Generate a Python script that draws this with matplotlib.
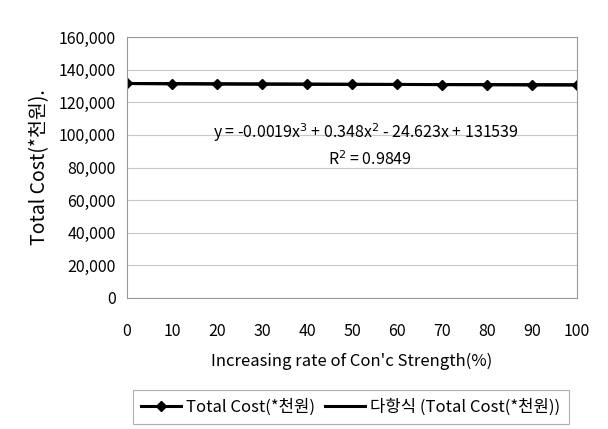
import numpy as np
import matplotlib
matplotlib.use('Agg')
import matplotlib.pyplot as plt

plt.rcParams['font.family'] = ['Noto Sans CJK KR', 'DejaVu Sans']

# data
strength_rate = [0, 10, 20, 30, 40, 50, 60, 70, 80, 90, 100]
total_cost = [131500, 131350, 131250, 131150, 131050, 130950,
              130900, 130850, 130800, 130700, 130650]
y_ticks = [0, 20000, 40000, 60000, 80000, 100000, 120000, 140000, 160000]

fig = plt.figure(figsize=(6.08, 4.29), dpi=100)
ax = fig.add_axes([127/608, 1 - 298/429, 450/608, 261/429])

# polynomial trend (order 3)
coef = np.polyfit(strength_rate, total_cost, 3)
xs = np.linspace(0, 100, 200)
ax.plot(xs, np.polyval(coef, xs), color='black', lw=2.2, label='다항식 (Total Cost(*천원))')
ax.plot(strength_rate, total_cost, color='black', lw=2.2, marker='D', ms=5.5,
        label='Total Cost(*천원)')

ax.set_xlim(0, 100)
ax.set_ylim(0, 160000)
ax.set_xticks(strength_rate)
ax.set_yticks(y_ticks)
ax.set_yticklabels(['{:,}'.format(v) for v in y_ticks])
ax.tick_params(axis='x', length=0, pad=18, labelsize=11.5)
ax.tick_params(axis='y', length=0, pad=8, labelsize=11.5)
ax.grid(axis='y', color='#c8c8c8', lw=0.8)
for s in ax.spines.values():
    s.set_color('#999999')
    s.set_linewidth(0.8)

ax.set_xlabel('Increasing rate of Con\'c Strength(%)', fontsize=12, labelpad=9)
ax.set_ylabel('Total Cost(*천원).', fontsize=14, labelpad=6)

ax.text(0.53, 0.632, r'y = -0.0019x$^3$ + 0.348x$^2$ - 24.623x + 131539',
        transform=ax.transAxes, ha='center', va='center', fontsize=11.5)
ax.text(0.54, 0.53, r'R$^2$ = 0.9849', transform=ax.transAxes,
        ha='center', va='center', fontsize=11.5)

h, l = ax.get_legend_handles_labels()
leg = fig.legend(h[::-1], l[::-1], loc='center', bbox_to_anchor=(351/608, 1 - 407/429),
                 ncol=2, frameon=True, fancybox=False, fontsize=12,
                 handlelength=2.4, columnspacing=0.6, handletextpad=0.3,
                 borderpad=0.5)
leg.get_frame().set_edgecolor('#999999')
leg.get_frame().set_linewidth(0.8)

fig.savefig('out.png', dpi=100)
